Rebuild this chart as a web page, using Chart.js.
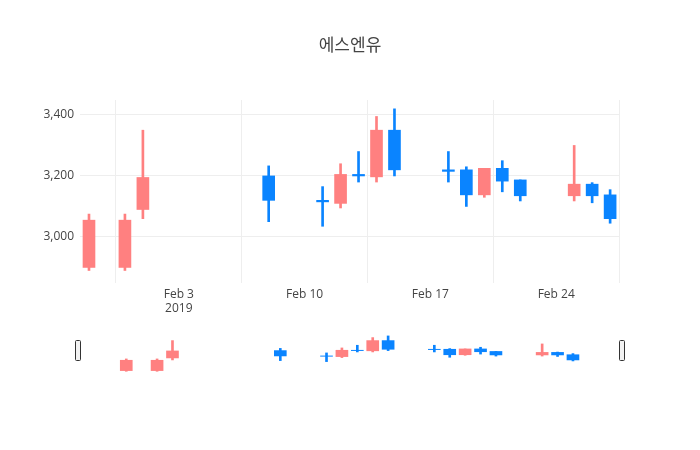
<!DOCTYPE html>
<html>
<head>
<meta charset="utf-8">
<script src="https://cdn.jsdelivr.net/npm/chart.js@4.4.1/dist/chart.umd.min.js"></script>
<style>
  body { margin: 0; background: #fff; }
  #wrap { position: relative; width: 700px; height: 450px; }
  #title { position: absolute; top: 31px; width: 700px; text-align: center;
           font: 17px "Noto Sans CJK KR", "Open Sans", sans-serif; color: #444; }
  #main { position: absolute; left: 0; top: 0; }
  #slider { position: absolute; left: 70px; top: 334px; }
</style>
</head>
<body>
<div id="wrap">
  <canvas id="main" width="700" height="450"></canvas>
  <canvas id="slider" width="560" height="40"></canvas>
  <div id="title">에스엔유</div>
</div>
<script>
// day of year 2019 (Jan 29 = 29, Feb 1 = 32 ...)
var days  = [29, 31, 32, 39, 42, 43, 44, 45, 46, 49, 50, 51, 52, 53, 56, 57, 58];
var open  = [2900, 2900, 3090, 3200, 3120, 3110, 3205, 3197, 3350, 3220, 3220, 3138, 3225, 3187, 3135, 3173, 3138];
var high  = [3075, 3075, 3350, 3233, 3165, 3240, 3280, 3395, 3420, 3280, 3230, 3225, 3250, 3187, 3300, 3178, 3155];
var low   = [2890, 2890, 3060, 3050, 3035, 3095, 3180, 3180, 3200, 3180, 3100, 3130, 3148, 3118, 3118, 3112, 3045];
var close = [3055, 3055, 3195, 3120, 3115, 3205, 3200, 3350, 3220, 3215, 3138, 3225, 3183, 3135, 3173, 3135, 3060];
var tickDays = [34, 41, 48, 55];
var tickLabels = [["Feb 3", "2019"], "Feb 10", "Feb 17", "Feb 24"];

var UP = "#ff8080", DOWN = "#0a84ff";
var xMin = 28.5, xMax = 58.55;

function colors() {
  return days.map(function (d, i) { return close[i] >= open[i] ? UP : DOWN; });
}
function bodies() {
  return days.map(function (d, i) {
    var a = Math.min(open[i], close[i]), b = Math.max(open[i], close[i]);
    if (b - a < 4) { b = a + 4; }
    return { x: d, y: [a, b] };
  });
}
function wicks() {
  return days.map(function (d, i) { return { x: d, y: [low[i], high[i]] }; });
}

function datasets(bodyW, wickW) {
  return [
    { data: wicks(), backgroundColor: colors(), barThickness: wickW, grouped: false, order: 2 },
    { data: bodies(), backgroundColor: colors(), borderColor: colors(), borderWidth: 0,
      barThickness: bodyW, grouped: false, order: 1 }
  ];
}

var font = { family: "'Open Sans', sans-serif", size: 12 };

new Chart(document.getElementById("main"), {
  type: "bar",
  data: { datasets: datasets(12, 2) },
  options: {
    responsive: false, animation: false,
    layout: { padding: { left: 30, right: 80, top: 100, bottom: 127 } },
    plugins: { legend: { display: false }, tooltip: { enabled: false } },
    scales: {
      x: {
        type: "linear", min: xMin, max: xMax, offset: false,
        afterBuildTicks: function (s) { s.ticks = tickDays.map(function (v) { return { value: v }; }); },
        afterFit: function (s) { s.height = 40; },
        ticks: { color: "#444", font: font, maxRotation: 0, padding: 4,
                 callback: function (v) { return tickLabels[tickDays.indexOf(v)]; } },
        grid: { color: "#eeeeee", drawTicks: false },
        border: { display: false }
      },
      y: {
        min: 2849, max: 3449,
        afterBuildTicks: function (s) { s.ticks = [3000, 3200, 3400].map(function (v) { return { value: v }; }); },
        afterFit: function (s) { s.width = 50; },
        ticks: { color: "#444", font: font, padding: 6 },
        grid: { color: "#eeeeee", drawTicks: false },
        border: { display: false }
      }
    }
  }
});

var handles = {
  id: "handles",
  afterDraw: function (c) {
    var ctx = c.ctx, a = c.chartArea;
    [a.left - 2, a.right + 2].forEach(function (x) {
      ctx.save();
      ctx.fillStyle = "#f2f2f2";
      ctx.strokeStyle = "#333";
      ctx.lineWidth = 1;
      ctx.beginPath();
      ctx.roundRect(x - 2.5, a.top + 6.5, 5, 20, 1);
      ctx.fill();
      ctx.stroke();
      ctx.restore();
    });
  }
};

new Chart(document.getElementById("slider"), {
  type: "bar",
  data: { datasets: datasets(12, 2) },
  options: {
    responsive: false, animation: false,
    layout: { padding: { left: 10, right: 10, top: 0, bottom: 0 } },
    plugins: { legend: { display: false }, tooltip: { enabled: false } },
    scales: {
      x: { type: "linear", min: xMin, max: xMax, display: false },
      y: { min: 2849, max: 3449, display: false }
    }
  },
  plugins: [handles]
});
</script>
</body>
</html>
